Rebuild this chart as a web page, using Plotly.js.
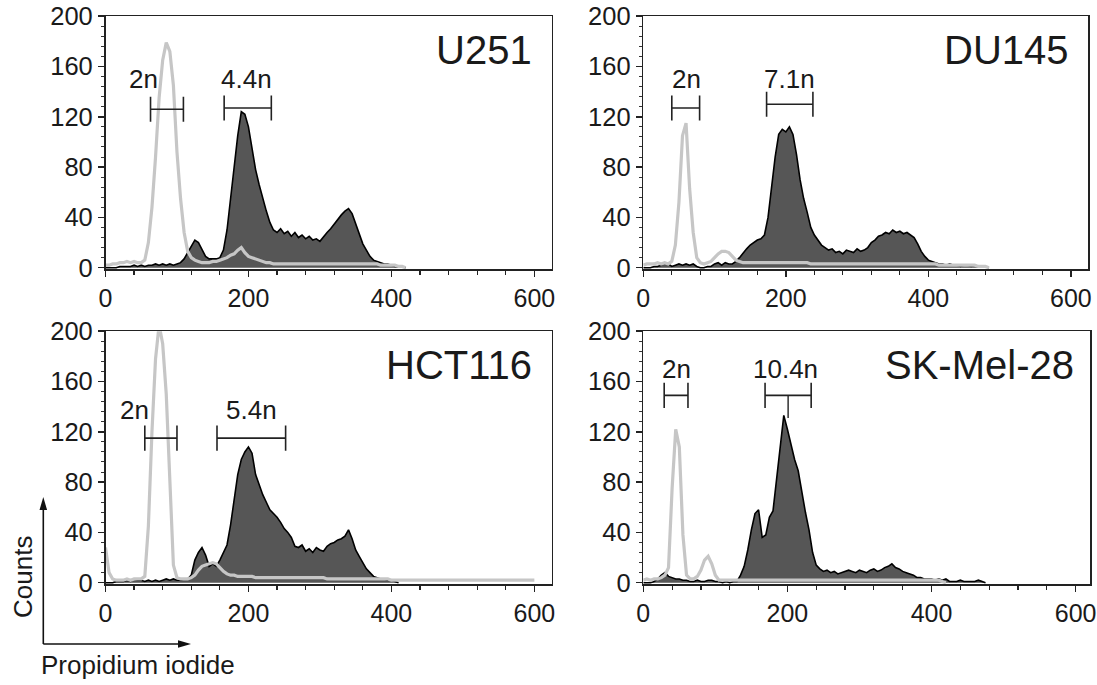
<!DOCTYPE html>
<html>
<head>
<meta charset="utf-8">
<script src="https://cdn.plot.ly/plotly-3.0.1.min.js"></script>
<style>html,body{margin:0;padding:0;background:#fff;}#chart{width:1097px;height:685px;}</style>
</head>
<body>
<div id="chart"></div>
<script>
// ---- data: histogram counts, one value per 5-unit channel bin starting at 0 ----
const binWidth = 5;
const xTickVals = [0, 200, 400, 600];
const yTickVals = [0, 40, 80, 120, 160, 200];
const panelNames = ['U251', 'DU145', 'HCT116', 'SK-Mel-28'];

const u251Treated = [0,0,0,0,1,1,1,1,2,1, 2,1,2,2,3,2,3,2,3,2, 3,4,7,12,18,22,20,14,9,7,
  7,7,8,14,30,55,80,105,124,122, 112,95,78,66,55,45,36,30,28,31, 27,29,25,28,24,26,23,25,22,23,
  21,25,28,31,35,38,42,45,47,43, 35,27,19,14,9,6,5,4,3,3, 2,1,1,1,0];
const u251Control = [2,2,3,3,4,4,5,4,5,4, 4,6,20,48,88,135,165,179,172,145, 92,55,28,13,8,6,5,4,4,4,
  5,5,6,7,8,10,11,14,16,12, 9,8,7,6,5,4,4,3,3,3, 3,3,3,3,3,3,3,3,3,3,
  3,3,3,3,3,3,3,3,3,3, 3,3,3,3,3,3,3,2,2,2, 2,2,1,1,0];

const du145Treated = [0,0,0,1,1,2,4,3,1,2, 3,2,3,2,3,1,0,0,1,1, 3,4,2,4,3,3,5,8,12,15,
  18,20,22,23,26,40,65,88,106,110, 108,112,106,90,70,55,44,32,26,22, 18,16,14,15,12,13,11,14,13,12,
  15,13,14,16,20,22,25,26,28,27, 30,28,29,27,28,26,24,19,13,9, 6,5,4,3,3,2,3,2,2,1,
  2,2,1,2,1,1,1,0];
const du145Control = [2,3,3,3,4,3,4,3,5,18, 52,105,115,63,28,8,4,3,4,5, 8,11,13,13,12,9,6,5,4,4,
  4,4,4,4,4,4,4,4,4,4, 4,4,4,4,4,4,4,3,3,3, 3,3,3,3,3,3,3,3,3,3,
  3,3,3,3,3,3,3,3,3,3, 3,3,3,3,3,3,3,3,3,3, 3,3,3,2,2,2,2,2,2,2,
  2,2,2,2,1,1,1,0];

const hct116Treated = [0,0,0,1,1,1,2,1,3,2, 2,1,2,1,2,1,2,3,2,3, 2,2,3,3,6,18,24,28,22,13,
  15,13,18,24,30,46,68,86,98,104, 108,103,86,78,70,64,58,55,52,48, 43,40,36,29,28,30,25,27,24,28,
  26,25,29,31,32,34,35,37,42,35, 26,21,16,11,8,5,4,3,3,2, 2,1,0];
const hct116Control = [28,8,3,2,2,2,3,2,3,3, 3,5,45,120,178,205,190,150,80,14, 4,3,3,3,4,6,10,13,14,15,
  16,15,12,9,7,6,6,5,5,5, 5,5,4,4,4,4,4,4,4,4, 4,4,4,4,4,4,4,4,4,4,
  4,4,3,3,3,3,3,3,3,3, 3,3,3,3,3,3,3,3,3,3, 2,2,2,2,2,2,2,2,2,2,
  2,2,2,2,2,2,2,2,2,2, 2,2,2,2,2,2,2,2,2,2, 2,2,2,2,2,2,2,2,2,2, 2];

const skmelTreated = [0,0,0,1,3,6,8,5,4,3, 3,2,2,1,1,2,1,1,2,2, 1,1,0,1,0,1,1,6,13,26,
  42,55,58,36,38,52,57,81,108,133, 122,110,98,89,72,56,42,24,14,11, 9,10,8,9,7,8,9,10,9,8,
  10,9,8,10,11,9,10,12,13,15, 12,11,9,8,7,6,4,4,3,3, 3,2,3,2,3,1,1,1,2,1,
  1,1,1,2,1,0];
const skmelControl = [2,3,2,3,3,4,6,12,75,122, 108,38,6,3,3,5,10,18,21,15, 6,2,2,2,2,2,2,2,2,2,
  2,2,2,2,2,2,2,2,2,2, 2,2,2,2,2,2,2,2,2,2, 2,2,2,2,2,2,2,2,2,2,
  2,2,2,2,2,2,2,2,2,2, 2,2,2,2,2,2,2,2,2,2, 2,2,2,1,0];

// gates: [start, end, level] in data units
const gates2n = [[63,109,126],[40,79,127],[55,100,115],[29,62,149]];
const gatesPoly = [[166,232,127],[173,238,130],[156,252,115],[169,233,149]];
const gateLabels2n = ['2n','2n','2n','2n'];
const gateLabelsPoly = ['4.4n','7.1n','5.4n','10.4n'];
const label2nPos = [[53,150],[60,150],[41,137],[46,170]];
const labelPolyPos = [[197,150],[205,150],[204,137],[198,170]];

// ---- layout geometry ----
const W = 1097, H = 685;
const FONT = '"Liberation Sans", Arial, sans-serif';
const INK = '#1a1a1a';
const px = v => v / W, py = v => 1 - v / H;
const xDom = [[px(105.5), px(551.5)], [px(643.3), px(1088)], [px(105.5), px(551.5)], [px(643.3), px(1090)]];
const rowDom = [[py(269.3), py(16.2)], [py(584.3), py(331.2)]];
const xMax = [624, 624, 624, 620];

const treated = [u251Treated, du145Treated, hct116Treated, skmelTreated];
const control = [u251Control, du145Control, hct116Control, skmelControl];
const chan = arr => arr.map((_, i) => i * binWidth);

const traces = [];
const layout = {
  width: W, height: H, margin: {l:0, r:0, t:0, b:0},
  paper_bgcolor: '#ffffff', plot_bgcolor: '#ffffff',
  showlegend: false, font: {family: FONT, color: INK, size: 25},
  annotations: [], shapes: []
};

for (let i = 0; i < 4; i++) {
  const sfx = i === 0 ? '' : String(i + 1);
  const xa = 'x' + sfx, ya = 'y' + sfx;
  traces.push({
    x: chan(treated[i]), y: treated[i], xaxis: xa, yaxis: ya, type: 'scatter', mode: 'lines',
    fill: 'tozeroy', fillcolor: '#565656', line: {color: '#000000', width: 1.6}, hoverinfo: 'skip'
  });
  traces.push({
    x: chan(control[i]), y: control[i], xaxis: xa, yaxis: ya, type: 'scatter', mode: 'lines',
    line: {color: '#c6c6c6', width: 3.2}, hoverinfo: 'skip'
  });
  const row = Math.floor(i / 2);
  layout['xaxis' + sfx] = {
    domain: xDom[i], anchor: ya, range: [0, xMax[i]],
    tickmode: 'array', tickvals: xTickVals, ticks: 'outside', ticklen: 6, tickwidth: 1.5, tickcolor: '#222',
    minor: {tickmode: 'linear', tick0: 0, dtick: 40, ticks: 'outside', ticklen: 4, tickwidth: 1.2, tickcolor: '#222'},
    showline: true, linecolor: '#222', linewidth: 1.6, mirror: true, showgrid: false, zeroline: false,
    ticklabeloverflow: 'allow',
    tickfont: {family: FONT, size: 25, color: INK}, fixedrange: true
  };
  layout['yaxis' + sfx] = {
    domain: rowDom[row], anchor: xa, range: [-1.27, 200],
    tickmode: 'array', tickvals: yTickVals, ticks: 'outside', ticklen: 6, tickwidth: 1.5, tickcolor: '#222',
    minor: {tickmode: 'linear', tick0: 0, dtick: 8, ticks: 'outside', ticklen: 3, tickwidth: 1, tickcolor: '#333'},
    showline: true, linecolor: '#222', linewidth: 1.6, mirror: true, showgrid: false, zeroline: false,
    ticklabeloverflow: 'allow',
    tickfont: {family: FONT, size: 25.5, color: INK}, fixedrange: true
  };
  // panel name
  layout.annotations.push({
    xref: xa, yref: ya, x: 600, y: 173, text: panelNames[i], showarrow: false,
    xanchor: 'right', yanchor: 'middle', font: {family: FONT, size: 40, color: INK}
  });
  // gates
  [[gates2n[i], gateLabels2n[i], label2nPos[i]], [gatesPoly[i], gateLabelsPoly[i], labelPolyPos[i]]].forEach(g => {
    const [a, b, lv] = g[0];
    const st = {xref: xa, yref: ya, type: 'line', line: {color: '#222', width: 1.6}};
    layout.shapes.push(Object.assign({x0: a, x1: b, y0: lv, y1: lv}, st));
    layout.shapes.push(Object.assign({x0: a, x1: a, y0: lv - 10, y1: lv + 10}, st));
    layout.shapes.push(Object.assign({x0: b, x1: b, y0: lv - 10, y1: lv + 10}, st));
    layout.annotations.push({
      xref: xa, yref: ya, x: g[2][0], y: g[2][1], text: g[1], showarrow: false,
      xanchor: 'center', yanchor: 'middle', font: {family: FONT, size: 26, color: INK}
    });
  });
  if (i === 3) {
    const [a, b, lv] = gatesPoly[i];
    layout.shapes.push({xref: xa, yref: ya, type: 'line', x0: (a + b) / 2, x1: (a + b) / 2, y0: lv, y1: 131,
      line: {color: '#222', width: 1.4}});
  }
}

// axis-direction arrows and labels (bottom-left legend)
const ax0 = 43.3, ay0 = 644;
layout.shapes.push({xref:'paper', yref:'paper', type:'line', x0:px(ax0), x1:px(ax0), y0:py(ay0), y1:py(509), line:{color:'#111', width:1.6}});
layout.shapes.push({xref:'paper', yref:'paper', type:'line', x0:px(ax0), x1:px(179), y0:py(ay0), y1:py(ay0), line:{color:'#111', width:1.6}});
layout.shapes.push({xref:'paper', yref:'paper', type:'path', fillcolor:'#111', line:{width:0},
  path:`M ${px(ax0)} ${py(497)} L ${px(ax0-3.8)} ${py(510)} L ${px(ax0+3.8)} ${py(510)} Z`});
layout.shapes.push({xref:'paper', yref:'paper', type:'path', fillcolor:'#111', line:{width:0},
  path:`M ${px(191)} ${py(ay0)} L ${px(178)} ${py(ay0-3.8)} L ${px(178)} ${py(ay0+3.8)} Z`});
layout.annotations.push({xref:'paper', yref:'paper', x:px(23), y:py(577), text:'Counts', textangle:-90,
  showarrow:false, xanchor:'center', yanchor:'middle', font:{family:FONT, size:26, color:INK}});
layout.annotations.push({xref:'paper', yref:'paper', x:px(39), y:py(665), text:'Propidium iodide',
  showarrow:false, xanchor:'left', yanchor:'middle', font:{family:FONT, size:26, color:INK}});

Plotly.newPlot('chart', traces, layout, {staticPlot: true, displayModeBar: false});
</script>
</body>
</html>
